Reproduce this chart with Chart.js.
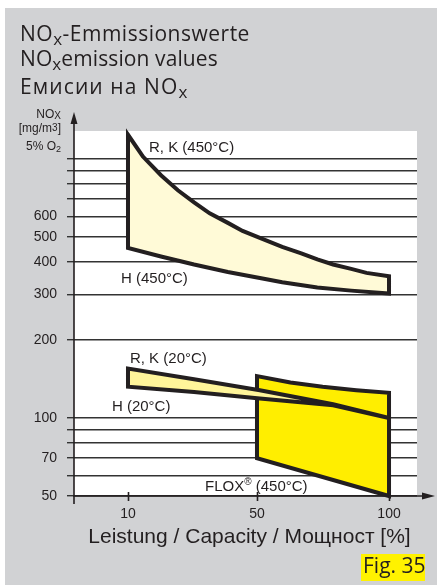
<!DOCTYPE html>
<html>
<head>
<meta charset="utf-8">
<script src="https://cdn.jsdelivr.net/npm/chart.js@4.4.1/dist/chart.umd.min.js"></script>
<style>
  html, body { margin: 0; padding: 0; background: #fff; }
</style>
</head>
<body>
<canvas id="chart" width="437" height="585"></canvas>
<script>
// --- Data ---
const loadTicks = [10, 50, 100];
const noxGrid = [50, 60, 70, 80, 90, 100, 200, 300, 400, 500, 600, 700, 800, 900, 1000];
const noxLabels = [50, 70, 100, 200, 300, 400, 500, 600];

// R, K (450°C) upper edge / H (450°C) lower edge
const rk450Load = [10, 14, 19, 24, 29, 34, 40, 45, 51, 59, 66, 72, 78, 85, 91, 100];
const rk450Nox = [1238, 1018, 864, 756, 679, 616, 566, 527, 495, 457, 432, 409, 391, 376, 363, 352];
const h450Load = [10, 19, 29, 40, 51, 59, 72, 85, 100];
const h450Nox = [453, 420, 391, 366, 347, 334, 319, 310, 302];

// R, K (20°C) upper edge / H (20°C) lower edge
const rk20Load = [10, 29, 51, 78, 100];
const rk20Nox = [155, 141, 128, 113, 100];
const h20Load = [10, 29, 51, 78, 100];
const h20Nox = [132, 126, 119, 112, 100];

// FLOX (450°C)
const floxTopLoad = [50, 62, 74, 87, 100];
const floxTopNox = [145, 137, 132, 128, 125];
const floxBottomLoad = [50, 100];
const floxBottomNox = [70, 50];

const INK = '#231f20';
const EXP = 0.8; // the capacity axis is neither linear nor log in the original

// --- Power scale for the capacity axis ---
class PowerScale extends Chart.LinearScale {
    static id = 'power';
    static defaults = {};
    _f(v) { return Math.sign(v) * Math.pow(Math.abs(v), EXP); }
    getPixelForValue(value) {
        const a = this._f(this.min), b = this._f(this.max);
        return this.getPixelForDecimal((this._f(value) - a) / (b - a));
    }
    getValueForPixel(pixel) {
        const a = this._f(this.min), b = this._f(this.max);
        const t = a + this.getDecimalForPixel(pixel) * (b - a);
        return Math.sign(t) * Math.pow(Math.abs(t), 1 / EXP);
    }
}
Chart.register(PowerScale);

// closed outline: top edge left->right, bottom edge right->left, back to start
function band(topX, topY, botX, botY) {
    const pts = topX.map((x, i) => ({ x: x, y: topY[i] }));
    for (let i = botX.length - 1; i >= 0; i--) pts.push({ x: botX[i], y: botY[i] });
    pts.push(pts[0], pts[1]);
    return pts;
}

function shape(data, fillColor, order) {
    return {
        data: data,
        order: order,
        backgroundColor: fillColor,
        borderColor: INK,
        borderWidth: 4,
        borderJoinStyle: 'miter',
        fill: 'shape',
        tension: 0,
        pointRadius: 0,
        clip: false
    };
}

// draw a line of text made of runs (for sub/superscripts)
function runs(ctx, x, y, parts, align, spacing) {
    ctx.letterSpacing = (spacing || 0) + 'px';
    let w = 0;
    parts.forEach(p => { ctx.font = p.font; w += ctx.measureText(p.t).width; });
    let cx = align === 'right' ? x - w : align === 'center' ? x - w / 2 : x;
    ctx.textAlign = 'left';
    ctx.textBaseline = 'alphabetic';
    parts.forEach(p => {
        ctx.font = p.font;
        ctx.fillText(p.t, cx, y + (p.dy || 0));
        cx += ctx.measureText(p.t).width;
    });
    ctx.letterSpacing = '0px';
}

const panelPlugin = {
    id: 'panel',
    beforeDraw(chart) {
        const { ctx, chartArea: a } = chart;
        ctx.save();
        ctx.fillStyle = '#ffffff';
        ctx.fillRect(0, 0, chart.width, chart.height);
        ctx.fillStyle = '#d1d2d4';
        ctx.fillRect(5, 8, chart.width - 5, chart.height - 8);
        ctx.fillStyle = '#ffffff';
        ctx.fillRect(a.left, a.top, a.right - a.left, a.bottom - a.top);
        ctx.restore();
    },
    afterDraw(chart) {
        const { ctx, chartArea: a } = chart;
        const xs = chart.scales.x, ys = chart.scales.y;
        ctx.save();
        ctx.strokeStyle = INK;
        ctx.fillStyle = INK;
        ctx.lineWidth = 1.6;

        // axes with arrows
        ctx.beginPath();
        ctx.moveTo(a.left, a.bottom + 8);
        ctx.lineTo(a.left, a.top - 10);
        ctx.moveTo(a.left - 1, a.bottom);
        ctx.lineTo(a.right + 8, a.bottom);
        ctx.stroke();
        ctx.beginPath();
        ctx.moveTo(a.left, a.top - 19);
        ctx.lineTo(a.left - 3.5, a.top - 7);
        ctx.lineTo(a.left + 3.5, a.top - 7);
        ctx.closePath();
        ctx.fill();
        ctx.beginPath();
        ctx.moveTo(a.right + 18, a.bottom);
        ctx.lineTo(a.right + 5, a.bottom - 3.5);
        ctx.lineTo(a.right + 5, a.bottom + 3.5);
        ctx.closePath();
        ctx.fill();

        // capacity tick marks across the axis
        ctx.beginPath();
        loadTicks.forEach(v => {
            const px = Math.round(xs.getPixelForValue(v)) + 0.5;
            ctx.moveTo(px, a.bottom - 4);
            ctx.lineTo(px, a.bottom + 5);
        });
        ctx.stroke();

        // title block
        const big = '21px "Open Sans"', sub = '17px "Open Sans"';
        runs(ctx, 20, 41, [{ t: 'NO', font: big }, { t: 'x', font: sub, dy: 4 }, { t: '-Emmissionswerte', font: big }], 'left', 0.5);
        runs(ctx, 20, 66, [{ t: 'NO', font: big }, { t: 'x', font: sub, dy: 4 }, { t: 'emission values', font: big }], 'left', 0.1);
        runs(ctx, 20, 94, [{ t: 'Емисии на NO', font: big }, { t: 'x', font: sub, dy: 4 }], 'left', 1.1);

        // y axis title
        const f12 = '12px "Liberation Sans"', f10 = '10px "Liberation Sans"';
        runs(ctx, 61, 118, [{ t: 'NO', font: f12 }, { t: 'X', font: f10, dy: 1 }], 'right');
        runs(ctx, 61, 132, [{ t: '[mg/m', font: f12 }, { t: '3', font: f10, dy: -1 }, { t: ']', font: f12 }], 'right');
        runs(ctx, 61, 150, [{ t: '5% O', font: f12 }, { t: '2', font: '9px "Liberation Sans"', dy: 2 }], 'right');

        // curve labels, anchored in data coordinates
        const lab = '15px "Liberation Sans"';
        const at = (load, nox) => [xs.getPixelForValue(load), ys.getPixelForValue(nox)];
        let p;
        p = at(15.6, 1064); runs(ctx, p[0], p[1], [{ t: 'R, K (450°C)', font: lab }]);
        p = at(8.25, 332); runs(ctx, p[0], p[1], [{ t: 'H (450°C)', font: lab }]);
        p = at(10.5, 163); runs(ctx, p[0], p[1], [{ t: 'R, K (20°C)', font: lab }]);
        p = at(6.1, 106.4); runs(ctx, p[0], p[1], [{ t: 'H (20°C)', font: lab }]);
        p = at(32.5, 52.2); runs(ctx, p[0], p[1], [{ t: 'FLOX', font: lab }, { t: '®', font: f10, dy: -6 }, { t: ' (450°C)', font: lab }]);

        // x axis title
        runs(ctx, 249.5, 543, [{ t: 'Leistung / Capacity / Мощност [%]', font: '21px "Liberation Sans"' }], 'center');

        // figure tag
        ctx.fillStyle = '#fff200';
        ctx.fillRect(361, 554, 64, 27);
        ctx.fillStyle = INK;
        runs(ctx, 363, 573, [{ t: 'Fig. 35', font: '21px "Open Sans"' }]);
        ctx.restore();
    }
};

const tickFont = { family: '"Liberation Sans"', size: 14 };

new Chart(document.getElementById('chart'), {
    type: 'line',
    data: {
        datasets: [
            shape(band(rk20Load, rk20Nox, h20Load, h20Nox), '#fff59a', 0),
            shape(band(floxTopLoad, floxTopNox, floxBottomLoad, floxBottomNox), '#ffee00', 1),
            shape(band(rk450Load, rk450Nox, h450Load, h450Nox), '#fffad7', 2)
        ]
    },
    options: {
        responsive: false,
        maintainAspectRatio: false,
        animation: false,
        layout: { padding: { left: 0, top: 131, right: 20, bottom: 0 } },
        plugins: {
            legend: { display: false },
            tooltip: { enabled: false }
        },
        scales: {
            x: {
                type: 'power',
                min: -0.55,
                max: 111.4,
                afterBuildTicks: (s) => { s.ticks = loadTicks.map(v => ({ value: v })); },
                afterFit: (s) => { s.height = 89; },
                grid: { display: false, drawTicks: false },
                border: { display: false },
                ticks: {
                    autoSkip: false,
                    maxRotation: 0,
                    padding: 10,
                    color: INK,
                    font: tickFont,
                    callback: (v) => String(v)
                }
            },
            y: {
                type: 'logarithmic',
                min: 50,
                max: 1280,
                afterBuildTicks: (s) => { s.ticks = noxGrid.map(v => ({ value: v })); },
                afterFit: (s) => { s.width = 74; },
                grid: { color: '#333333', lineWidth: 1.4, tickLength: 7 },
                border: { display: false },
                ticks: {
                    autoSkip: false,
                    padding: 10,
                    color: INK,
                    font: tickFont,
                    callback: (v) => noxLabels.includes(v) ? String(v) : ''
                }
            }
        }
    },
    plugins: [panelPlugin]
});
</script>
</body>
</html>
